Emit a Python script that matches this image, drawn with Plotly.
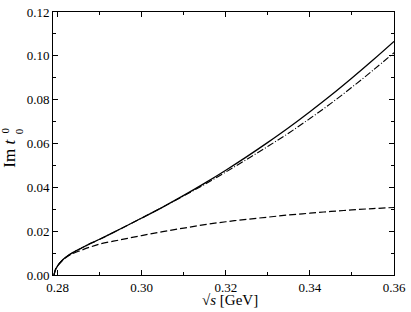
import plotly.graph_objects as go

# sqrt(s) in GeV
sqrt_s = [0.27914, 0.2795, 0.2800, 0.2810, 0.2820, 0.2835, 0.2855, 0.2875, 0.2900,
          0.2950, 0.3000, 0.3050, 0.3100, 0.3150, 0.3200, 0.3250, 0.3300, 0.3350,
          0.3400, 0.3450, 0.3500, 0.3550, 0.3600]

# solid curve
im_full = [0.0, 0.0025, 0.0042, 0.0065, 0.0082, 0.0101, 0.0121, 0.0141, 0.0163,
           0.0211, 0.0260, 0.0310, 0.0363, 0.0419, 0.0478, 0.0540, 0.0605, 0.0673,
           0.0745, 0.0820, 0.0899, 0.0981, 0.1066]

# dashed curve
im_dashed = [0.0, 0.0025, 0.0042, 0.0064, 0.0080, 0.0097, 0.0112, 0.0126, 0.0141,
             0.0161, 0.0180, 0.0198, 0.0214, 0.0230, 0.0243, 0.0254, 0.0264, 0.0274,
             0.0282, 0.0290, 0.0297, 0.0303, 0.0308]

# dash-dot curve
im_dashdot = [0.0, 0.0025, 0.0042, 0.0065, 0.0082, 0.0101, 0.0121, 0.0141, 0.0163,
              0.0211, 0.0260, 0.0310, 0.0361, 0.0414, 0.0470, 0.0528, 0.0587, 0.0648,
              0.0714, 0.0783, 0.0857, 0.0934, 0.1014]

x_ticks = [0.28, 0.30, 0.32, 0.34, 0.36]
y_ticks = [0.00, 0.02, 0.04, 0.06, 0.08, 0.10, 0.12]

W, H = 411, 312
L, R, T, B = 53, 398, 5, 275
FONT = "Liberation Serif"


def px(xp):
    return (xp - L) / (R - L)


def py(yp):
    return (B - yp) / (B - T)


fig = go.Figure()
fig.add_trace(go.Scatter(x=sqrt_s, y=im_full, mode="lines",
                         line=dict(color="black", width=1.3, shape="spline"),
                         showlegend=False))
fig.add_trace(go.Scatter(x=sqrt_s, y=im_dashdot, mode="lines",
                         line=dict(color="black", width=1.1, dash="7px,2px,1px,2px", shape="spline"),
                         showlegend=False))
fig.add_trace(go.Scatter(x=sqrt_s, y=im_dashed, mode="lines",
                         line=dict(color="black", width=1.2, dash="7px,3px", shape="spline"),
                         showlegend=False))

axis_common = dict(showgrid=False, zeroline=False, showline=True, linecolor="black",
                   linewidth=1, mirror="allticks", ticks="inside", ticklen=5,
                   tickcolor="black", tickwidth=1, ticklabeloverflow="allow",
                   tickfont=dict(family=FONT, size=13, color="black"))

fig.update_xaxes(range=[0.2789, 0.36], tickvals=x_ticks,
                 ticktext=[f"{v:.2f}" for v in x_ticks],
                 minor=dict(ticks="inside", dtick=0.01, tick0=0.28, ticklen=3,
                            tickcolor="black", tickwidth=1),
                 **axis_common)
fig.update_yaxes(range=[0, 0.12], tickvals=y_ticks,
                 ticktext=[f"{v:.2f}" for v in y_ticks],
                 minor=dict(ticks="inside", dtick=0.01, tick0=0, ticklen=3,
                            tickcolor="black", tickwidth=1),
                 **axis_common)

annotations = [
    dict(text="√<i>s</i> [GeV]", x=px(232), y=py(301), xref="paper", yref="paper",
         xanchor="center", yanchor="middle", showarrow=False,
         font=dict(family=FONT, size=15, color="black")),
    dict(text="Im <i>t</i>", x=px(9), y=py(150), xref="paper", yref="paper",
         xanchor="center", yanchor="middle", showarrow=False, textangle=-90,
         font=dict(family=FONT, size=17, color="black")),
    dict(text="0", x=px(4), y=py(127), xref="paper", yref="paper",
         xanchor="center", yanchor="middle", showarrow=False, textangle=-90,
         font=dict(family=FONT, size=11, color="black")),
    dict(text="0", x=px(18), y=py(127), xref="paper", yref="paper",
         xanchor="center", yanchor="middle", showarrow=False, textangle=-90,
         font=dict(family=FONT, size=11, color="black")),
]

fig.update_layout(width=W, height=H, margin=dict(l=L, r=W - R, t=T, b=H - B),
                  paper_bgcolor="white", plot_bgcolor="white",
                  font=dict(family=FONT, color="black"),
                  annotations=annotations, showlegend=False)

fig.write_html("out.html", config={"displayModeBar": False},
               post_script="document.body.style.margin='0';document.body.style.overflow='hidden';")
